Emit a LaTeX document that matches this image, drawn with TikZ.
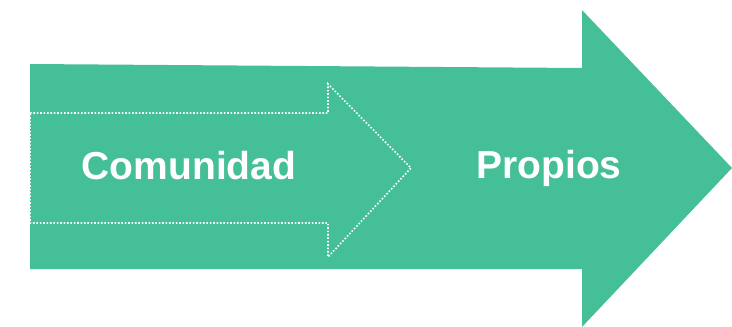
\documentclass[tikz,border=0pt]{standalone}
\usepackage{fontspec}
\setmainfont{Liberation Sans}
\definecolor{verde}{RGB}{69,191,151}

\begin{document}
\begin{tikzpicture}[x=1pt,y=-1pt]
    \useasboundingbox(0,0)rectangle(732,327);
    \fill[verde](30,64)--(582,68)--(582,10)--(732,168)--(582,327)--(582,269)--(30,269)--cycle;
    \draw[white,line width=1.6pt,dash pattern=on 1.6pt off 1.8pt](30,113)--(328,113)--(328,84)--(411,168)--(328,257)--(328,223)--(30,223)--cycle;

    \node[white,anchor=base,font=\bfseries\fontsize{39}{40}\selectfont](comunidad)at(189,179){Comunidad};
    \node[white,anchor=base,font=\bfseries\fontsize{39}{40}\selectfont](propios)at(549,178){Propios};
\end{tikzpicture}
\end{document}
